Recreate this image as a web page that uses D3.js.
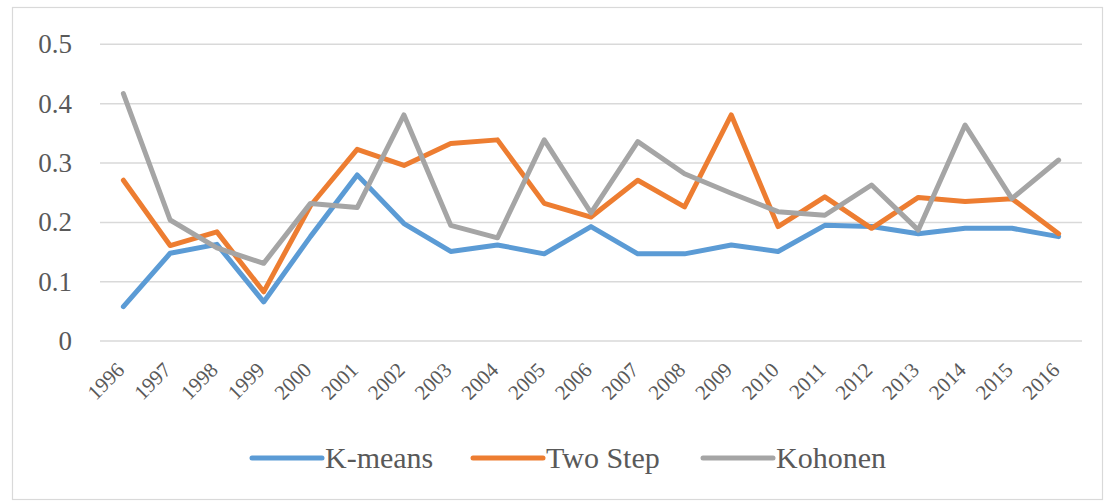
<!DOCTYPE html>
<html>
<head>
<meta charset="utf-8">
<script src="https://cdn.jsdelivr.net/npm/d3@7"></script>
</head>
<body style="margin:0">
<svg id="chart" width="1115" height="502" font-family="Liberation Serif" style="font-family: 'Liberation Serif'"></svg>
<script>
const years = ["1996","1997","1998","1999","2000","2001","2002","2003","2004","2005","2006","2007","2008","2009","2010","2011","2012","2013","2014","2015","2016"];
const kmeans  = [0.058,0.148,0.163,0.066,0.176,0.280,0.198,0.151,0.162,0.147,0.193,0.147,0.147,0.162,0.151,0.195,0.193,0.181,0.190,0.190,0.176];
const twoStep = [0.271,0.161,0.184,0.083,0.228,0.323,0.296,0.333,0.339,0.232,0.209,0.271,0.226,0.381,0.193,0.243,0.190,0.242,0.235,0.240,0.181];
const kohonen = [0.417,0.204,0.157,0.131,0.232,0.225,0.381,0.195,0.174,0.339,0.216,0.336,0.282,0.249,0.218,0.212,0.263,0.187,0.364,0.240,0.305];
const yTicks = [0, 0.1, 0.2, 0.3, 0.4, 0.5];
const seriesNames = ["K-means", "Two Step", "Kohonen"];
const seriesColors = ["#5B9BD5", "#ED7D31", "#A5A5A5"];

const svg = d3.select("#chart");
const FONT = "Liberation Serif";
const TXT = "#595959";

// chart border
svg.append("rect")
  .attr("x", 12.5).attr("y", 7.5)
  .attr("width", 1090).attr("height", 492)
  .attr("fill", "#fff").attr("stroke", "#D9D9D9").attr("stroke-width", 1.2);

const x = d3.scaleBand().domain(years).range([100, 1082]);
const y = d3.scaleLinear().domain([0, 0.5]).range([341.1, 44.3]);

// gridlines
svg.append("g").selectAll("line").data(yTicks).join("line")
  .attr("x1", 100).attr("x2", 1082)
  .attr("y1", d => y(d)).attr("y2", d => y(d))
  .attr("stroke", "#D9D9D9").attr("stroke-width", 1.5);

// y axis labels
svg.append("g").selectAll("text").data(yTicks).join("text")
  .attr("x", 72).attr("y", d => y(d)).attr("dy", "0.33em")
  .attr("text-anchor", "end")
  .attr("font-family", FONT).style("font-family", FONT)
  .attr("font-size", 27).attr("fill", TXT)
  .text(d => d === 0 ? "0" : d3.format(".1f")(d));

// x axis labels
svg.append("g").selectAll("text").data(years).join("text")
  .attr("transform", d => `translate(${x(d) + x.bandwidth() / 2 - 3},366) rotate(-45)`)
  .attr("dy", "0.35em")
  .attr("text-anchor", "end")
  .attr("font-family", FONT).style("font-family", FONT)
  .attr("font-size", 21).attr("fill", TXT)
  .text(d => d);

// lines
const seriesData = [kmeans, twoStep, kohonen];
const line = d3.line()
  .x((d, i) => x(years[i]) + x.bandwidth() / 2)
  .y(d => y(d));
seriesData.forEach((vals, k) => {
  svg.append("path")
    .datum(vals)
    .attr("d", line)
    .attr("fill", "none")
    .attr("stroke", seriesColors[k])
    .attr("stroke-width", 5)
    .attr("stroke-linejoin", "round")
    .attr("stroke-linecap", "round");
});

// legend
const legendX = [252, 473, 703];
seriesNames.forEach((name, k) => {
  const g = svg.append("g").attr("transform", `translate(${legendX[k]},458)`);
  g.append("line").attr("x1", 0).attr("x2", 70).attr("y1", 0).attr("y2", 0)
    .attr("stroke", seriesColors[k]).attr("stroke-width", 5).attr("stroke-linecap", "round");
  g.append("text").attr("x", 73).attr("y", 10)
    .attr("font-family", FONT).style("font-family", FONT)
    .attr("font-size", 30).attr("fill", TXT)
    .text(name);
});
</script>
</body>
</html>
